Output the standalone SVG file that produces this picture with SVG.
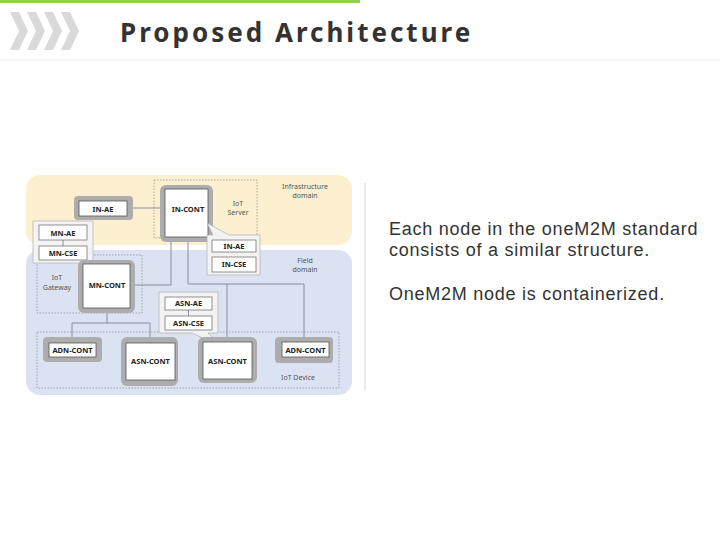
<svg xmlns="http://www.w3.org/2000/svg" width="720" height="540" viewBox="0 0 720 540">
<style>
.title{font-family:"Noto Sans","Open Sans",sans-serif;font-weight:bold;font-size:26px;fill:#333;letter-spacing:3px}
.body{font-family:"Liberation Sans",Arial,sans-serif;font-size:18px;fill:#333;letter-spacing:0.75px}
.lbl{font-family:"Noto Sans","DejaVu Sans",sans-serif;font-weight:bold;font-size:7.5px;fill:#222;text-anchor:middle}
.dom{font-family:"Noto Sans","DejaVu Sans",sans-serif;font-size:7px;fill:#555;text-anchor:middle}
.outer{fill:#adadad}
.inner{fill:#fff;stroke:#555;stroke-width:0.8}
.sub{fill:#fff;stroke:#777;stroke-width:0.8}
.bubble{fill:#f3f3f3;stroke:#b5b5b5;stroke-width:0.8}
.dot{fill:none;stroke:#8a8a8a;stroke-width:0.7;stroke-dasharray:1.5 1.5}
.conn{fill:none;stroke:#7d8595;stroke-width:0.9}
.chev{fill:#d9d9d9}
</style>
<g id="header">
<rect x="0" y="0" width="360" height="3" fill="#92d050"/>
<polygon class="chev" points="10,12 19,12 28,31 19,50 10,50 19,31"/>
<polygon class="chev" points="27,12 36,12 45,31 36,50 27,50 36,31"/>
<polygon class="chev" points="44,12 53,12 62,31 53,50 44,50 53,31"/>
<polygon class="chev" points="61,12 70,12 79,31 70,50 61,50 70,31"/>
<text class="title" x="120" y="42">Proposed Architecture</text>
<line x1="0" y1="60" x2="720" y2="60" stroke="#eeeeee" stroke-width="1"/>
</g>
<g id="domains">
<rect x="26" y="175" width="326" height="70" rx="14" fill="#fcf0d0"/>
<rect x="26" y="250" width="326" height="145" rx="14" fill="#dbe3f2"/>
<text class="dom" x="305" y="189">Infrastructure</text>
<text class="dom" x="305" y="198">domain</text>
<text class="dom" x="305" y="263">Field</text>
<text class="dom" x="305" y="272">domain</text>
<rect class="dot" x="154" y="180" width="103" height="58"/>
<rect class="dot" x="37" y="255" width="105" height="58"/>
<rect class="dot" x="37" y="332" width="302" height="56"/>
<text class="dom" x="238" y="206">IoT</text>
<text class="dom" x="238" y="215">Server</text>
<text class="dom" x="57" y="280">IoT</text>
<text class="dom" x="57" y="290">Gateway</text>
<text class="dom" x="298" y="380">IoT Device</text>
</g>
<g id="connectors">
<line class="conn" x1="133" y1="208" x2="160" y2="208"/>
<polyline class="conn" points="171,242 171,285 135,285"/>
<polyline class="conn" points="188,242 188,284 304,284 304,337"/>
<line class="conn" x1="227" y1="284" x2="227" y2="337"/>
<polyline class="conn" points="107,313 107,323"/>
<polyline class="conn" points="72,337 72,323 150,323 150,337"/>
<line class="conn" x1="234" y1="252" x2="234" y2="257"/>
</g>
<g id="in-ae">
<rect class="outer" x="74" y="196" width="59" height="24" rx="4"/>
<rect class="inner" x="79" y="201" width="48" height="15"/>
<text class="lbl" x="103" y="211.5">IN-AE</text>
</g>
<g id="in-cont">
<rect class="outer" x="160" y="185" width="53" height="57" rx="6"/>
<rect class="inner" x="165" y="189" width="43" height="48"/>
<text class="lbl" x="188" y="212">IN-CONT</text>
</g>
<g id="in-callout">
<path class="bubble" d="M207,235 H213 L207,223 L229,235 H260 V275 H207 Z"/>
<rect class="sub" x="212" y="240" width="44" height="12"/>
<text class="lbl" x="234" y="248.8">IN-AE</text>
<rect class="sub" x="212" y="257" width="44" height="15"/>
<text class="lbl" x="234" y="267.3">IN-CSE</text>
</g>
<g id="mn-callout">
<path class="bubble" d="M33,221 H93 V263 H90 L99,280 L81,263 H33 Z"/>
<rect class="sub" x="39" y="225" width="48" height="15"/>
<text class="lbl" x="63" y="235.5">MN-AE</text>
<rect class="sub" x="39" y="246" width="48" height="14"/>
<text class="lbl" x="63" y="256">MN-CSE</text>
<line class="conn" x1="63" y1="240" x2="63" y2="246"/>
</g>
<g id="mn-cont">
<rect class="outer" x="78" y="260" width="57" height="53" rx="6"/>
<rect class="inner" x="83" y="264" width="47" height="44"/>
<text class="lbl" x="107" y="288">MN-CONT</text>
</g>
<g id="asn-callout">
<path class="bubble" d="M159,292 H218 V333 H208 L222,347 L192,333 H159 Z"/>
<rect class="sub" x="165" y="297" width="47" height="13"/>
<text class="lbl" x="188.5" y="306.3">ASN-AE</text>
<rect class="sub" x="165" y="316" width="47" height="14"/>
<text class="lbl" x="188.5" y="325.8">ASN-CSE</text>
<line class="conn" x1="188.5" y1="310" x2="188.5" y2="316"/>
</g>
<g id="adn-cont-1">
<rect class="outer" x="43" y="337" width="59" height="25" rx="4"/>
<rect class="inner" x="49" y="343" width="47" height="14"/>
<text class="lbl" x="72.5" y="352.8">ADN-CONT</text>
</g>
<g id="asn-cont-1">
<rect class="outer" x="121" y="337" width="57" height="49" rx="6"/>
<rect class="inner" x="126" y="343" width="49" height="37"/>
<text class="lbl" x="150.5" y="364">ASN-CONT</text>
</g>
<g id="asn-cont-2">
<rect class="outer" x="198" y="337" width="59" height="46" rx="6"/>
<rect class="inner" x="203" y="342" width="49" height="37"/>
<text class="lbl" x="227.5" y="363.5">ASN-CONT</text>
</g>
<g id="adn-cont-2">
<rect class="outer" x="275" y="337" width="58" height="26" rx="4"/>
<rect class="inner" x="282" y="342" width="47" height="15"/>
<text class="lbl" x="305.5" y="352.5">ADN-CONT</text>
</g>
<g id="text">
<line x1="365" y1="183" x2="365" y2="390" stroke="#d9d9d9" stroke-width="1"/>
<text class="body" x="389" y="235">Each node in the oneM2M standard</text>
<text class="body" x="389" y="256">consists of a similar structure.</text>
<text class="body" x="389" y="300">OneM2M node is containerized.</text>
</g>
</svg>
